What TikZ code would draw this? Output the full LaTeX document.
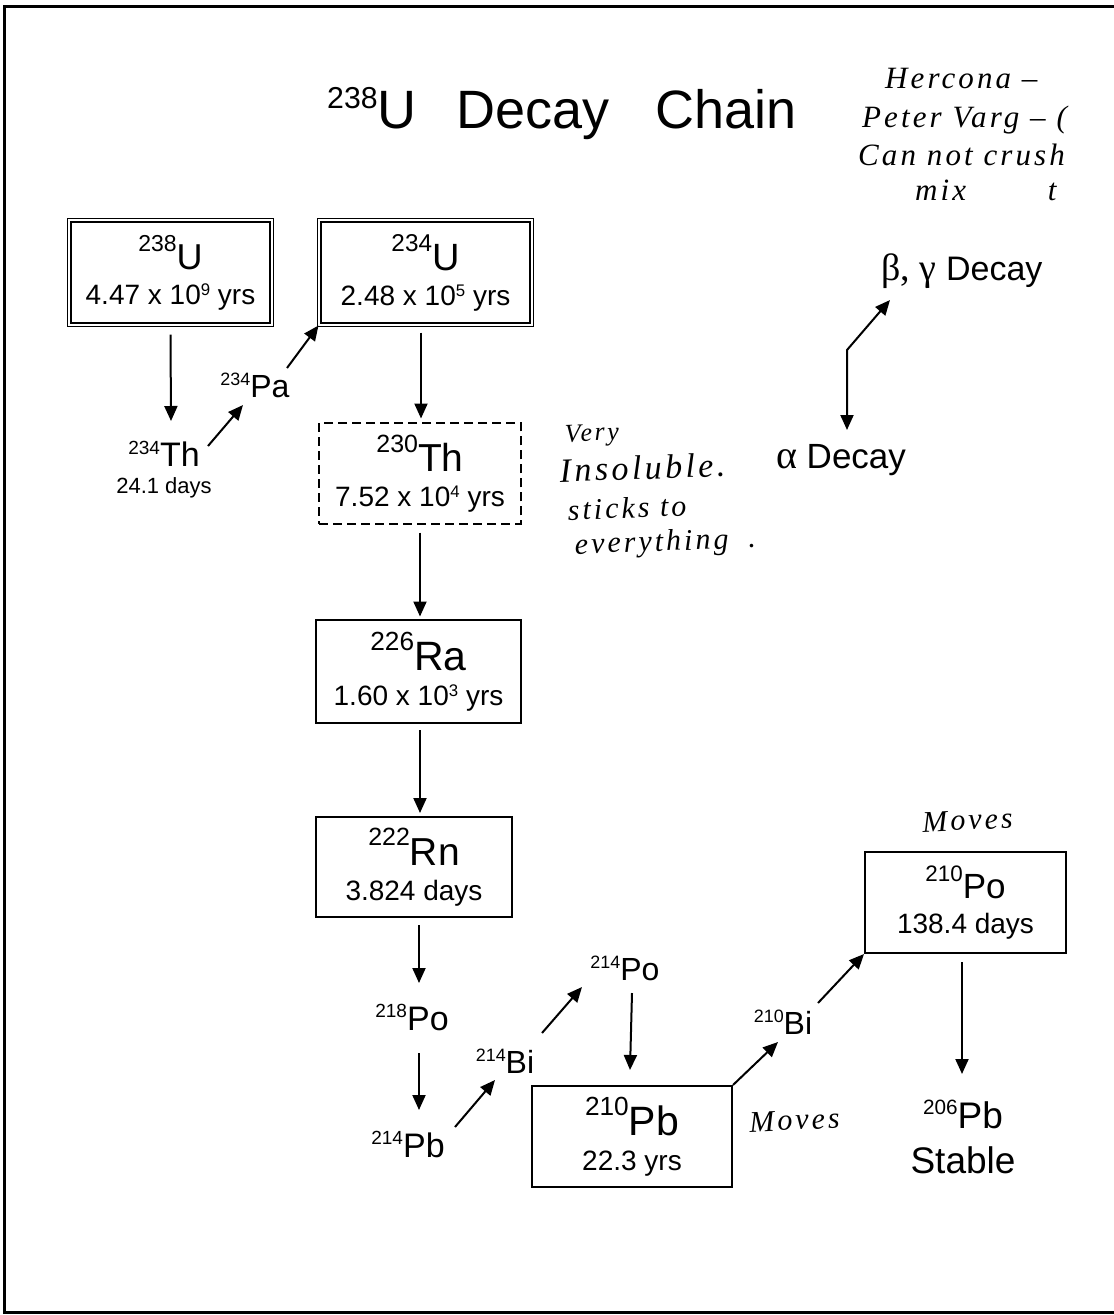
\documentclass[tikz,border=0pt]{standalone}
\usepackage{fontspec}
\setmainfont{Liberation Sans}
\newfontfamily\grk{Liberation Serif}
\newfontfamily\hand[LetterSpace=10]{Liberation Serif}
\usetikzlibrary{arrows.meta}
\newcommand\isoA[2]{\raisebox{0.5em}{\scalebox{0.64}{#1}}#2}
\newcommand\isoB[2]{\raisebox{0.36em}{\scalebox{0.56}{#1}}#2}
\newcommand\ex[1]{\raisebox{0.32em}{\scalebox{0.6}{#1}}}
\newcommand\fs[1]{\fontsize{#1}{#1}\selectfont}
\begin{document}
\begin{tikzpicture}[x=1pt,y=-1pt,
  box/.style={draw, line width=2.4pt, inner sep=0pt, align=center, font=\fontsize{28}{35}\selectfont},
  dbox/.style={box, double, line width=1.4pt, double distance=1.8pt},
  dbox2/.style={box, dash pattern=on 9pt off 5pt},
  lbl/.style={inner sep=0pt, anchor=base},
  arr/.style={line width=2pt, -{Triangle[length=15pt,width=13pt]}},
  arr2/.style={line width=2pt, {Triangle[length=15pt,width=13pt]}-{Triangle[length=15pt,width=13pt]}},
  hw/.style={inner sep=0pt, anchor=base west, font=\hand\itshape\fs{30}}]
\useasboundingbox (0,0) rectangle (1114,1315);
\fill[white] (0,0) rectangle (1114,1315);
% frame
\draw[line width=3pt] (1114,6) -- (4,6) -- (4,1312.5) -- (1114,1312.5);

% title
\node[lbl, font=\fs{54}] (title) at (562,128) {\isoB{238}{U}\hspace{40pt}Decay\hspace{46pt}Chain};

% boxes
\node[dbox, minimum width=202.4pt, minimum height=104.4pt] (u238) at (170.5,272.5)
  {{\fs{36}\isoA{238}{U}}\\4.47 x 10\ex{9} yrs};
\node[dbox, minimum width=212.4pt, minimum height=104.4pt] (u234) at (425.5,272.5)
  {{\fs{38}\isoA{234}{U}}\\2.48 x 10\ex{5} yrs};
\node[dbox2, minimum width=201.6pt, minimum height=100.6pt] (th230) at (420,473.5)
  {{\fs{39}\isoA{230}{Th}}\\7.52 x 10\ex{4} yrs};
\node[box, minimum width=204.6pt, minimum height=102.6pt] (ra226) at (418.5,671.5)
  {{\fs{41}\isoA{226}{Ra}}\\1.60 x 10\ex{3} yrs};
\node[box, minimum width=195.6pt, minimum height=99.6pt] (rn222) at (414,867)
  {{\fs{39}\isoA{222}{Rn}}\\3.824 days};
\node[box, minimum width=199.6pt, minimum height=100.6pt] (pb210) at (632,1136.5)
  {{\fs{41}\isoA{210}{Pb}}\\22.3 yrs};
\node[box, minimum width=200.6pt, minimum height=100.6pt] (po210) at (965.5,902.5)
  {{\fs{35}\isoA{210}{Po}}\\138.4 days};

% free labels
\node[inner sep=0pt, align=center, font=\fontsize{22}{27}\selectfont] (th234) at (164,470)
  {{\fs{34}\isoB{234}{Th}}\\24.1 days};
\node[lbl, font=\fs{32}] (pa234) at (255,397) {\isoB{234}{Pa}};
\node[lbl, font=\fs{34}] (po218) at (412,1030) {\isoB{218}{Po}};
\node[lbl, font=\fs{34}] (pb214) at (408,1157) {\isoB{214}{Pb}};
\node[lbl, font=\fs{32}] (bi214) at (505,1073) {\isoB{214}{Bi}};
\node[lbl, font=\fs{32}] (po214) at (625,980) {\isoB{214}{Po}};
\node[lbl, font=\fs{32}] (bi210) at (783,1034) {\isoB{210}{Bi}};
\node[inner sep=0pt, align=center, font=\fontsize{37}{45}\selectfont] (pb206) at (963,1137)
  {\isoB{206}{Pb}\\Stable};

% legend
\node[lbl, font=\fs{34}] (beta) at (962,280) {{\grk\fs{38}β, γ} Decay};
\node[lbl, font=\fs{35}] (alpha) at (841,468) {{\grk\fs{40}α} Decay};
\coordinate (legc) at (847,350);
\draw[arr2] ([shift={(-72,20)}]beta.base) -- (legc) -- ([shift={(6,-38)}]alpha.base);

% chain arrows
\draw[arr] ([shift={(0,62)}]u238.center) -- ([shift={(7,-49)}]th234.center);
\draw[arr] ([shift={(44,-24)}]th234.center) -- ([shift={(-12,8)}]pa234.base);
\draw[arr] ([shift={(32,-29)}]pa234.base) -- ([shift={(-107,53)}]u234.center);
\draw[arr] ([shift={(-4.5,60)}]u234.center) -- ([shift={(1,-55)}]th230.center);
\draw[arr] ([shift={(0,59)}]th230.center) -- ([shift={(1.5,-55)}]ra226.center);
\draw[arr] ([shift={(1.5,58.5)}]ra226.center) -- ([shift={(6,-54)}]rn222.center);
\draw[arr] ([shift={(5,58)}]rn222.center) -- ([shift={(7,-47)}]po218.base);
\draw[arr] ([shift={(7,23)}]po218.base) -- ([shift={(11,-47)}]pb214.base);
\draw[arr] ([shift={(47,-30)}]pb214.base) -- ([shift={(-10,7)}]bi214.base);
\draw[arr] ([shift={(37,-40)}]bi214.base) -- ([shift={(-43,7)}]po214.base);
\draw[arr] ([shift={(7,13)}]po214.base) -- ([shift={(-2,-66.5)}]pb210.center);
\draw[arr] ([shift={(101,-51.5)}]pb210.center) -- ([shift={(-5,8)}]bi210.base);
\draw[arr] ([shift={(35,-31)}]bi210.base) -- ([shift={(-101.5,51.5)}]po210.center);
\draw[arr] ([shift={(-3.5,59.5)}]po210.center) -- ([shift={(-1,-63)}]pb206.center);

% handwriting
\node[hw, font=\hand\itshape\fs{31}] (hw1) at (885,88) {Hercona –};
\node[hw, font=\hand\itshape\fs{31}] (hw2) at (862,127) {Peter Varg – (};
\node[hw, font=\hand\itshape\fs{31}] (hw3) at (858,165) {Can not crush};
\node[hw, font=\hand\itshape\fs{31}] (hw4) at (915,200) {mix \hspace{60pt} t};

\node[hw, rotate=2, font=\hand\itshape\fs{26}] (hw5) at (565,442) {Very};
\node[hw, rotate=2, font=\hand\itshape\fs{34}] (hw6) at (560,482) {Insoluble.};
\node[hw, rotate=2] (hw7) at (568,520) {sticks to};
\node[hw, rotate=2] (hw8) at (575,554) {everything\hspace{20pt}.};

\node[hw, anchor=base, rotate=3] (hw9) at (968,830) {Moves};
\node[hw, anchor=base, rotate=3] (hw10) at (795,1130) {Moves};
\end{tikzpicture}
\end{document}
